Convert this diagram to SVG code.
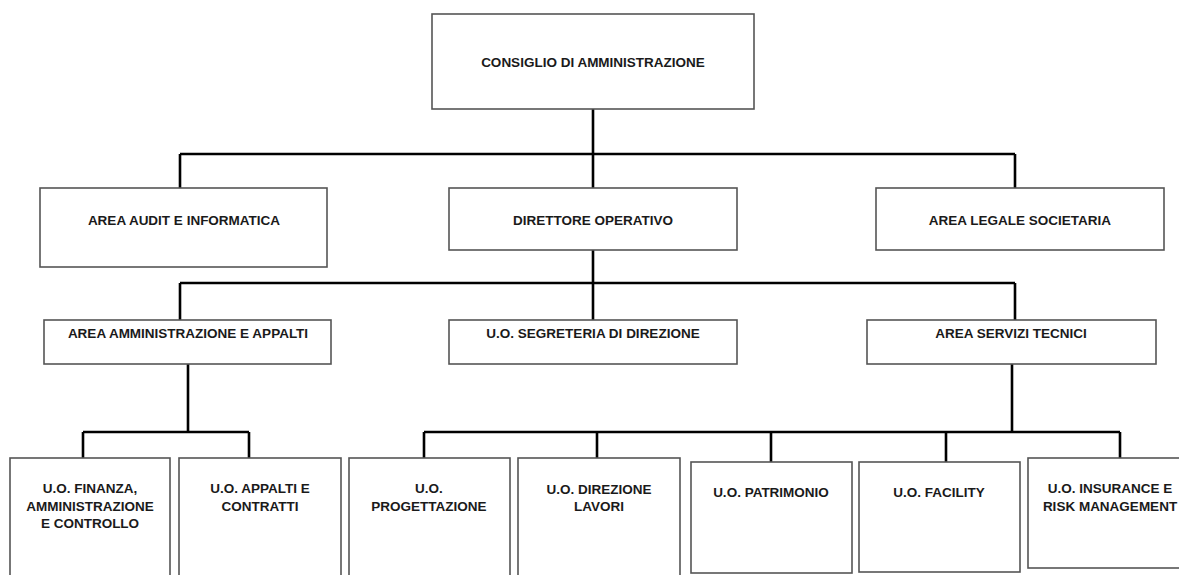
<svg xmlns="http://www.w3.org/2000/svg" width="1179" height="575" viewBox="0 0 1179 575">
<style>
.box{fill:#fff;stroke:#555;stroke-width:1.6}
.t{font-family:"Liberation Sans",Arial,sans-serif;font-weight:bold;font-size:13.5px;fill:#1a1a1a;text-anchor:middle}
.c{fill:none;stroke:#000;stroke-width:2.6}
</style>
<rect width="1179" height="575" fill="#fff"/>
<g id="connectors">
<path class="c" d="M593 109V154M180 154H1015M180 154V188M593 154V188M1015 154V188"/>
<path class="c" d="M593 250V320M180 283H1015M180 283V320M1015 283V320"/>
<path class="c" d="M188 364V432M83 432H249M83 432V458M249 432V458"/>
<path class="c" d="M1012 364V432M424 432H1120M424 432V458M597 432V458M771 432V462M946 432V462M1120 432V458"/>
</g>
<g id="n-cda"><rect class="box" x="432" y="14" width="322" height="95"/><text class="t" x="593" y="67">CONSIGLIO DI AMMINISTRAZIONE</text></g>
<g id="n-audit"><rect class="box" x="40" y="188" width="287" height="79"/><text class="t" x="184" y="225">AREA AUDIT E INFORMATICA</text></g>
<g id="n-direttore"><rect class="box" x="449" y="188" width="288" height="62"/><text class="t" x="593" y="225">DIRETTORE OPERATIVO</text></g>
<g id="n-legale"><rect class="box" x="876" y="188" width="288" height="62"/><text class="t" x="1020" y="225">AREA LEGALE SOCIETARIA</text></g>
<g id="n-ammin"><rect class="box" x="44" y="320" width="287" height="44"/><text class="t" x="188" y="338">AREA AMMINISTRAZIONE E APPALTI</text></g>
<g id="n-segreteria"><rect class="box" x="449" y="320" width="288" height="44"/><text class="t" x="593" y="338">U.O. SEGRETERIA DI DIREZIONE</text></g>
<g id="n-servizi"><rect class="box" x="867" y="320" width="289" height="44"/><text class="t" x="1011" y="338">AREA SERVIZI TECNICI</text></g>
<g id="n-finanza"><rect class="box" x="10" y="458" width="160" height="125"/><text class="t" x="90" y="493">U.O. FINANZA,</text><text class="t" x="90" y="511">AMMINISTRAZIONE</text><text class="t" x="90" y="528">E CONTROLLO</text></g>
<g id="n-appalti"><rect class="box" x="179" y="458" width="162" height="125"/><text class="t" x="260" y="493">U.O. APPALTI E</text><text class="t" x="260" y="511">CONTRATTI</text></g>
<g id="n-progettazione"><rect class="box" x="349" y="458" width="161" height="125"/><text class="t" x="429" y="493">U.O.</text><text class="t" x="429" y="511">PROGETTAZIONE</text></g>
<g id="n-direzione"><rect class="box" x="518" y="458" width="162" height="125"/><text class="t" x="599" y="494">U.O. DIREZIONE</text><text class="t" x="599" y="511">LAVORI</text></g>
<g id="n-patrimonio"><rect class="box" x="691" y="462" width="161" height="111"/><text class="t" x="771" y="497">U.O. PATRIMONIO</text></g>
<g id="n-facility"><rect class="box" x="859" y="462" width="161" height="110"/><text class="t" x="939" y="497">U.O. FACILITY</text></g>
<g id="n-insurance"><rect class="box" x="1028" y="458" width="162" height="110"/><text class="t" x="1110" y="493">U.O. INSURANCE E</text><text class="t" x="1110" y="511">RISK MANAGEMENT</text></g>
</svg>
